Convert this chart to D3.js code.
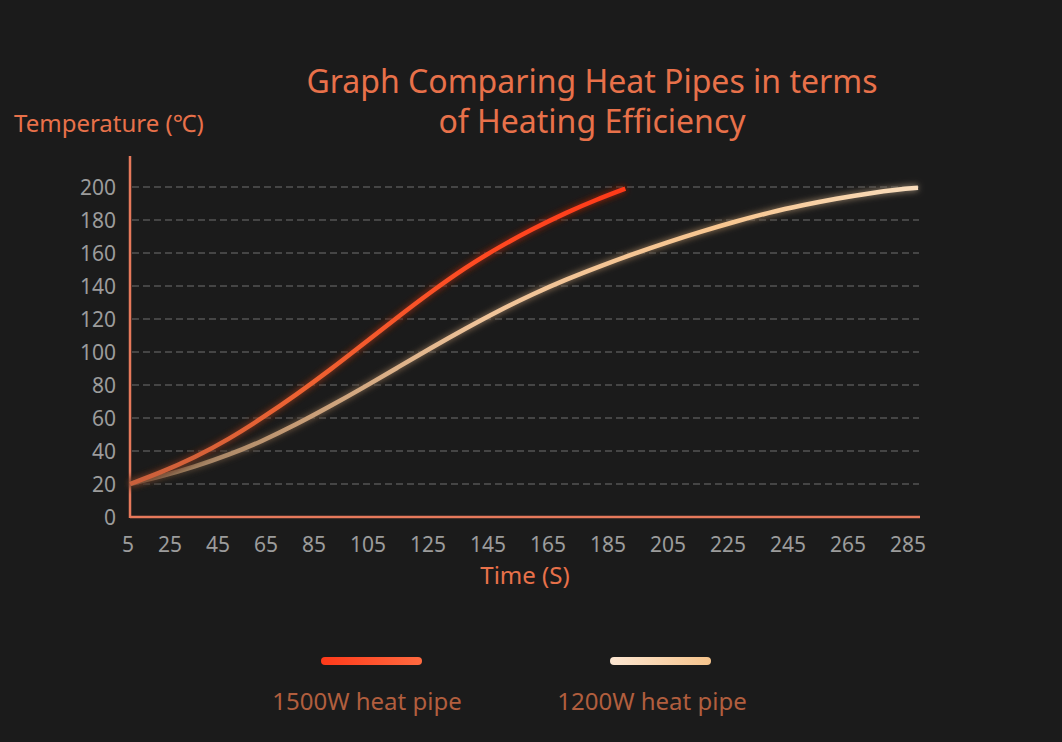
<!DOCTYPE html>
<html>
<head>
<meta charset="utf-8">
<script src="https://cdn.jsdelivr.net/npm/d3@7"></script>
<style>
  html, body { margin: 0; padding: 0; background: #1b1b1b; }
  svg { display: block; }
  text { font-family: "Noto Sans", "Open Sans", sans-serif; }
</style>
</head>
<body>
<svg id="chart" width="1062" height="742"></svg>
<script>
// values
var xTicks = [5, 25, 45, 65, 85, 105, 125, 145, 165, 185, 205, 225, 245, 265, 285];
var yTicks = [0, 20, 40, 60, 80, 100, 120, 140, 160, 180, 200];
var seriesNames = ["1500W heat pipe", "1200W heat pipe"];
var pipe1500 = [[5,20],[16,27],[28,36],[40,47],[52,60],[64,74],[76,89],[88,105],[100,121],[112,136.5],[124,151],[136,163.5],[148,174.5],[160,184.5],[171,192.5],[181,199]];
var pipe1200 = [[5,20],[16,24.5],[28,30.5],[40,37.5],[52,46],[64,56],[76,67],[88,78.5],[100,90.5],[112,102.5],[124,114],[136,125],[148,135],[160,144],[172,152],[184,159.5],[196,166.5],[208,173],[220,179],[232,184.5],[244,189],[256,193],[268,196.3],[278,198.5],[285,199.5]];

var titleLines = ["Graph Comparing Heat Pipes in terms", "of Heating Efficiency"];

var svg = d3.select("#chart");

var x = d3.scaleLinear().domain([5, 285]).range([130, 918]);
var y = d3.scaleLinear().domain([0, 200]).range([517, 187]);

var defs = svg.append("defs");

function grad(id, x1, x2, stops, units) {
    var g = defs.append("linearGradient")
        .attr("id", id)
        .attr("gradientUnits", units || "userSpaceOnUse")
        .attr("x1", x1).attr("x2", x2).attr("y1", 0).attr("y2", 0);
    stops.forEach(function(s) {
        g.append("stop").attr("offset", s[0]).attr("stop-color", s[1]);
    });
}
grad("g1500", x(5), x(181), [[0, "#c8603c"], [0.35, "#ee6232"], [0.7, "#ff4a22"], [1, "#ff3a18"]]);
grad("g1200", x(5), x(285), [[0, "#8e7458"], [0.2, "#c49a74"], [0.45, "#f0c49a"], [0.75, "#f8c690"], [1, "#f8dcbc"]]);
grad("leg1500", 0, 1, [[0, "#ff3a1a"], [1, "#ff6a40"]], "objectBoundingBox");
grad("leg1200", 0, 1, [[0, "#fce6d2"], [1, "#f6c48c"]], "objectBoundingBox");

var glow = defs.append("filter").attr("id", "glow")
    .attr("x", "-10%").attr("y", "-10%").attr("width", "120%").attr("height", "120%");
glow.append("feGaussianBlur").attr("stdDeviation", 3);

// grid
svg.append("g").selectAll("line")
    .data(yTicks.filter(function(d) { return d > 0; }))
    .join("line")
    .attr("x1", x(5) + 2).attr("x2", x(285) + 1)
    .attr("y1", function(d) { return y(d); })
    .attr("y2", function(d) { return y(d); })
    .attr("stroke", "#545454")
    .attr("stroke-width", 1.5)
    .attr("stroke-dasharray", "7,4");

// y axis labels
var yAxis = svg.append("g")
    .attr("transform", "translate(122,0)")
    .call(d3.axisLeft(y).tickValues(yTicks).tickSize(0).tickPadding(6));
yAxis.select(".domain").remove();
yAxis.selectAll("text")
    .attr("fill", "#9c9c9c")
    .style("font-size", "21px")
    .attr("dy", "0.34em");

// x axis labels, spread with equal gaps like the source
var xAxis = svg.append("g")
    .attr("transform", "translate(0,517)")
    .call(d3.axisBottom(x).tickValues(xTicks).tickSize(0).tickPadding(0));
xAxis.select(".domain").remove();
xAxis.selectAll("text")
    .attr("fill", "#9c9c9c")
    .style("font-size", "21px")
    .attr("y", 35)
    .attr("dy", 0);
var ticks = xAxis.selectAll(".tick").nodes();
var widths = ticks.map(function(t) { return t.querySelector("text").getComputedTextLength(); });
var left = 122, right = 926;
var gap = (right - left - d3.sum(widths)) / (ticks.length - 1);
var pos = left;
ticks.forEach(function(t, i) {
    d3.select(t).attr("transform", "translate(" + (pos + widths[i] / 2) + ",0)");
    pos += widths[i] + gap;
});

// axis lines
var axisColor = "#e6795b";
svg.append("line")
    .attr("x1", x(5)).attr("x2", x(5))
    .attr("y1", 156).attr("y2", y(0) + 1)
    .attr("stroke", axisColor).attr("stroke-width", 2.5);
svg.append("line")
    .attr("x1", x(5)).attr("x2", 920)
    .attr("y1", y(0)).attr("y2", y(0))
    .attr("stroke", axisColor).attr("stroke-width", 2.5);

// curves
var line = d3.line()
    .x(function(d) { return x(d[0]); })
    .y(function(d) { return y(d[1]); })
    .curve(d3.curveBasis);

var series = [
    {data: pipe1200, stroke: "url(#g1200)"},
    {data: pipe1500, stroke: "url(#g1500)"}
];
series.forEach(function(s) {
    svg.append("path")
        .attr("d", line(s.data))
        .attr("fill", "none")
        .attr("stroke", "#000")
        .attr("stroke-opacity", 0.5)
        .attr("stroke-width", 10)
        .attr("filter", "url(#glow)");
    svg.append("path")
        .attr("d", line(s.data))
        .attr("fill", "none")
        .attr("stroke", s.stroke)
        .attr("stroke-opacity", 0.5)
        .attr("stroke-width", 7)
        .attr("filter", "url(#glow)");
    svg.append("path")
        .attr("d", line(s.data))
        .attr("fill", "none")
        .attr("stroke", s.stroke)
        .attr("stroke-width", 4.5);
});

// title
svg.append("text")
    .attr("text-anchor", "middle")
    .attr("fill", "#e8714a")
    .style("font-size", "32px")
    .selectAll("tspan")
    .data(titleLines)
    .join("tspan")
    .attr("x", 592)
    .attr("y", function(d, i) { return 93 + i * 40; })
    .text(function(d) { return d; });

svg.append("text")
    .attr("x", 14).attr("y", 132)
    .attr("fill", "#e8714a")
    .style("font-size", "24px")
    .text("Temperature (℃)");

svg.append("text")
    .attr("x", 525).attr("y", 584)
    .attr("text-anchor", "middle")
    .attr("fill", "#e8714a")
    .style("font-size", "24px")
    .text("Time (S)");

// legend
var legend = svg.append("g").selectAll("g")
    .data(seriesNames)
    .join("g")
    .attr("transform", function(d, i) { return "translate(" + [371, 660][i] + ",0)"; });
legend.append("rect")
    .attr("x", -50).attr("y", 657)
    .attr("width", 101).attr("height", 8)
    .attr("rx", 4)
    .attr("fill", function(d, i) { return i === 0 ? "url(#leg1500)" : "url(#leg1200)"; });
legend.append("text")
    .attr("x", function(d, i) { return i === 0 ? -4 : -8; })
    .attr("y", 710)
    .attr("text-anchor", "middle")
    .attr("fill", "#b15e3e")
    .style("font-size", "24px")
    .text(function(d) { return d; });
</script>
</body>
</html>
